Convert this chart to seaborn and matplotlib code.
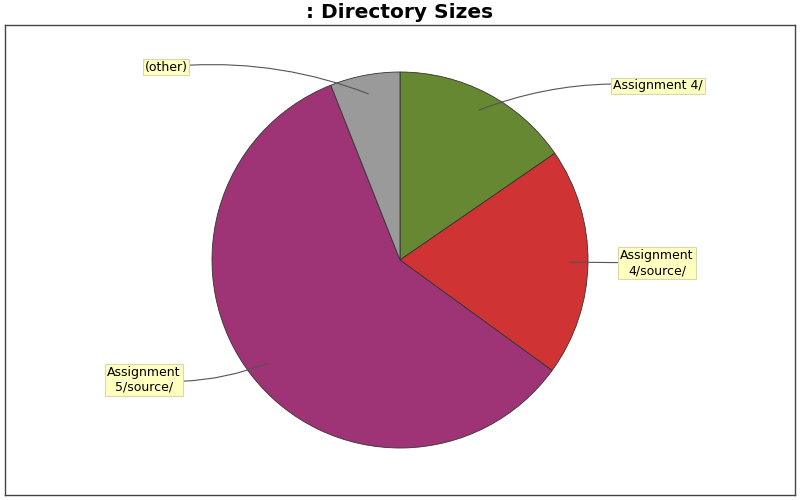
import numpy as np
import matplotlib
matplotlib.use("Agg")
import matplotlib.pyplot as plt
import seaborn as sns

# slice data, clockwise from 12 o'clock
labels = ["Assignment 4/", "Assignment\n4/source/", "Assignment\n5/source/", "(other)"]
sizes = [15.4, 19.6, 59.0, 6.0]
colors = ["#668833", "#d03333", "#9e3476", "#9a9a9a"]

# label box centres (pixel layout) and curve bend per label
label_pos = [(658, 414), (657, 237), (144, 120), (166, 433)]
bends = [0.12, 0.0, 0.12, -0.12]

sns.set_theme(style="white")
plt.rcParams["font.family"] = ["DejaVu Sans"]

fig = plt.figure(figsize=(8, 5), dpi=100)
ax = fig.add_axes([5 / 800, 5 / 500, 790 / 800, 470 / 500])

cx, cy, r = 400, 240, 188
wedges, _ = ax.pie(sizes, colors=colors, startangle=90, counterclock=False,
                   center=(cx, cy), radius=r, frame=True,
                   wedgeprops=dict(edgecolor="#333333", linewidth=0.6))
ax.set_xlim(5, 795)
ax.set_ylim(5, 475)
ax.set_aspect("equal")
ax.set_xticks([])
ax.set_yticks([])
for s in ax.spines.values():
    s.set_visible(True)
    s.set_color("#444444")
    s.set_linewidth(1.0)

for w, lab, pos, rad in zip(wedges, labels, label_pos, bends):
    mid = np.deg2rad((w.theta1 + w.theta2) / 2)
    px = cx + 0.9 * r * np.cos(mid)
    py = cy + 0.9 * r * np.sin(mid)
    ax.annotate(lab, xy=(px, py), xytext=pos, ha="center", va="center",
                fontsize=9, color="black", multialignment="center",
                bbox=dict(boxstyle="square,pad=0.15", fc="#ffffc0", ec="#d8d8b0", lw=0.8),
                arrowprops=dict(arrowstyle="-", color="#555555", lw=0.8,
                                shrinkA=0, shrinkB=0,
                                connectionstyle=f"arc3,rad={rad}"))

fig.text(0.5, 1 - 13 / 500, ": Directory Sizes", ha="center", va="center",
         fontsize=14.5, fontweight="bold", color="black")

fig.savefig("out.png", dpi=100)
